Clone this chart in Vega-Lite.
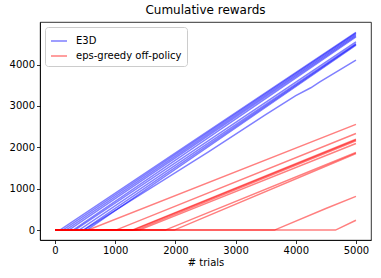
{
  "$schema": "https://vega.github.io/schema/vega-lite/v6.json",
  "autosize": "none",
  "width": 331,
  "height": 218,
  "padding": {"left": 40, "top": 22, "right": 10, "bottom": 38},
  "background": "white",
  "title": {"text": "Cumulative rewards", "font": "DejaVu Sans", "fontSize": 12, "fontWeight": "normal", "color": "#000", "offset": 5},
  "config": {
    "view": {"stroke": "#000", "strokeWidth": 0.8},
    "axis": {"grid": false, "domainColor": "#000", "domainWidth": 0.8, "tickColor": "#000", "tickWidth": 0.8, "tickSize": 3.5, "labelPadding": 2, "labelFont": "DejaVu Sans", "labelFontSize": 10, "labelColor": "#000", "titleFont": "DejaVu Sans", "titleFontSize": 10, "titleFontWeight": "normal", "titleColor": "#000", "format": "d"},
    "legend": {"labelFont": "DejaVu Sans", "labelFontSize": 10, "labelColor": "#000"}
  },
  "data": {"values": [
    {"run": "b1", "method": "E3D", "x": 0, "y": 0}, {"run": "b1", "method": "E3D", "x": 80, "y": 0}, {"run": "b1", "method": "E3D", "x": 5000, "y": 4780},
    {"run": "b2", "method": "E3D", "x": 0, "y": 0}, {"run": "b2", "method": "E3D", "x": 130, "y": 0}, {"run": "b2", "method": "E3D", "x": 5000, "y": 4760},
    {"run": "b3", "method": "E3D", "x": 0, "y": 0}, {"run": "b3", "method": "E3D", "x": 180, "y": 0}, {"run": "b3", "method": "E3D", "x": 5000, "y": 4730},
    {"run": "b4", "method": "E3D", "x": 0, "y": 0}, {"run": "b4", "method": "E3D", "x": 230, "y": 0}, {"run": "b4", "method": "E3D", "x": 5000, "y": 4700},
    {"run": "b5", "method": "E3D", "x": 0, "y": 0}, {"run": "b5", "method": "E3D", "x": 300, "y": 0}, {"run": "b5", "method": "E3D", "x": 5000, "y": 4670},
    {"run": "b6", "method": "E3D", "x": 0, "y": 0}, {"run": "b6", "method": "E3D", "x": 330, "y": 0}, {"run": "b6", "method": "E3D", "x": 5000, "y": 4550},
    {"run": "b7", "method": "E3D", "x": 0, "y": 0}, {"run": "b7", "method": "E3D", "x": 400, "y": 0}, {"run": "b7", "method": "E3D", "x": 5000, "y": 4510},
    {"run": "b8", "method": "E3D", "x": 0, "y": 0}, {"run": "b8", "method": "E3D", "x": 470, "y": 0}, {"run": "b8", "method": "E3D", "x": 5000, "y": 4490},
    {"run": "b9", "method": "E3D", "x": 0, "y": 0}, {"run": "b9", "method": "E3D", "x": 530, "y": 0}, {"run": "b9", "method": "E3D", "x": 5000, "y": 4470},
    {"run": "b10", "method": "E3D", "x": 0, "y": 0}, {"run": "b10", "method": "E3D", "x": 480, "y": 0}, {"run": "b10", "method": "E3D", "x": 2549, "y": 1890}, {"run": "b10", "method": "E3D", "x": 3500, "y": 2790}, {"run": "b10", "method": "E3D", "x": 4000, "y": 3250}, {"run": "b10", "method": "E3D", "x": 4250, "y": 3440}, {"run": "b10", "method": "E3D", "x": 4400, "y": 3580}, {"run": "b10", "method": "E3D", "x": 5000, "y": 4110},
    {"run": "r1", "method": "eps-greedy off-policy", "x": 0, "y": 0}, {"run": "r1", "method": "eps-greedy off-policy", "x": 550, "y": 0}, {"run": "r1", "method": "eps-greedy off-policy", "x": 5000, "y": 2555},
    {"run": "r2", "method": "eps-greedy off-policy", "x": 0, "y": 0}, {"run": "r2", "method": "eps-greedy off-policy", "x": 1010, "y": 0}, {"run": "r2", "method": "eps-greedy off-policy", "x": 5000, "y": 2334},
    {"run": "r3", "method": "eps-greedy off-policy", "x": 0, "y": 0}, {"run": "r3", "method": "eps-greedy off-policy", "x": 1280, "y": 0}, {"run": "r3", "method": "eps-greedy off-policy", "x": 5000, "y": 2195},
    {"run": "r4", "method": "eps-greedy off-policy", "x": 0, "y": 0}, {"run": "r4", "method": "eps-greedy off-policy", "x": 1300, "y": 0}, {"run": "r4", "method": "eps-greedy off-policy", "x": 5000, "y": 2180},
    {"run": "r5", "method": "eps-greedy off-policy", "x": 0, "y": 0}, {"run": "r5", "method": "eps-greedy off-policy", "x": 1350, "y": 0}, {"run": "r5", "method": "eps-greedy off-policy", "x": 5000, "y": 2156},
    {"run": "r6", "method": "eps-greedy off-policy", "x": 0, "y": 0}, {"run": "r6", "method": "eps-greedy off-policy", "x": 1400, "y": 0}, {"run": "r6", "method": "eps-greedy off-policy", "x": 5000, "y": 2093},
    {"run": "r7", "method": "eps-greedy off-policy", "x": 0, "y": 0}, {"run": "r7", "method": "eps-greedy off-policy", "x": 1830, "y": 0}, {"run": "r7", "method": "eps-greedy off-policy", "x": 5000, "y": 1876},
    {"run": "r8", "method": "eps-greedy off-policy", "x": 0, "y": 0}, {"run": "r8", "method": "eps-greedy off-policy", "x": 1980, "y": 0}, {"run": "r8", "method": "eps-greedy off-policy", "x": 5000, "y": 1852},
    {"run": "r9", "method": "eps-greedy off-policy", "x": 0, "y": 0}, {"run": "r9", "method": "eps-greedy off-policy", "x": 3646, "y": 0}, {"run": "r9", "method": "eps-greedy off-policy", "x": 4500, "y": 520}, {"run": "r9", "method": "eps-greedy off-policy", "x": 5000, "y": 815},
    {"run": "r10", "method": "eps-greedy off-policy", "x": 0, "y": 0}, {"run": "r10", "method": "eps-greedy off-policy", "x": 4660, "y": 0}, {"run": "r10", "method": "eps-greedy off-policy", "x": 5000, "y": 238}
  ]},
  "mark": {"type": "line", "strokeWidth": 1.5, "opacity": 0.5},
  "encoding": {
    "x": {"field": "x", "type": "quantitative", "title": "# trials", "scale": {"domain": [-250, 5250], "nice": false, "zero": false}, "axis": {"values": [0, 1000, 2000, 3000, 4000, 5000], "titlePadding": 2}},
    "y": {"field": "y", "type": "quantitative", "title": null, "scale": {"domain": [-240, 5030], "nice": false, "zero": false}, "axis": {"values": [0, 1000, 2000, 3000, 4000]}},
    "detail": {"field": "run"},
    "color": {"field": "method", "type": "nominal", "scale": {"domain": ["E3D", "eps-greedy off-policy"], "range": ["#0000ff", "#ff0000"]},
      "legend": {"title": null, "orient": "top-left", "offset": 5, "padding": 5, "fillColor": "white", "strokeColor": "#cccccc", "cornerRadius": 3, "symbolType": "stroke", "symbolSize": 256, "symbolStrokeWidth": 1.5, "symbolOpacity": 0.5, "rowPadding": 1, "labelOffset": 8}}
  }
}
